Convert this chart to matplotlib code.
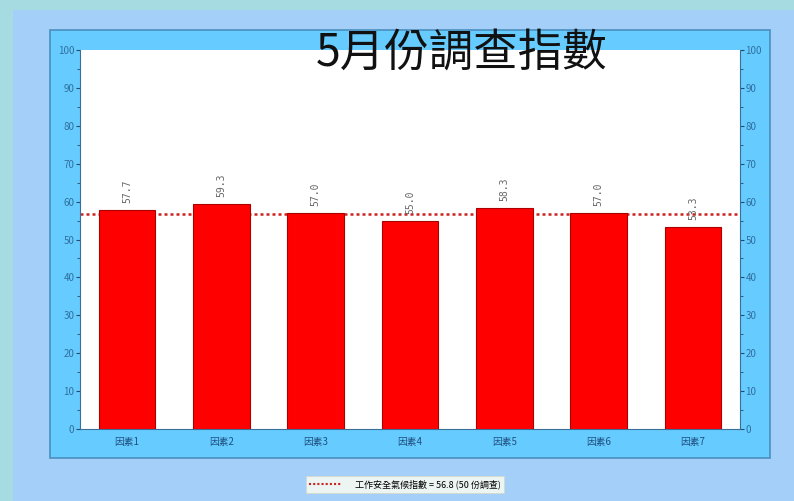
import matplotlib
matplotlib.use('Agg')
from matplotlib import pyplot as plt
from matplotlib.patches import Rectangle
from matplotlib.lines import Line2D

# data
categories = ['因素1', '因素2', '因素3', '因素4', '因素5', '因素6', '因素7']
values = [57.7, 59.3, 57.0, 55.0, 58.3, 57.0, 53.3]
average = 56.8
legend_label = '工作安全氣候指數 = 56.8 (50 份調查)'
title = '5月份調查指數'

plt.rcParams['font.family'] = ['Noto Sans CJK TC', 'DejaVu Sans']

fig = plt.figure(figsize=(7.94, 5.01), dpi=100)
fig.patch.set_facecolor('#a3cff8')

W, H = 794, 501


def px_rect(x0, y0, x1, y1, **kw):
    # rectangle in pixel coords, y from top
    r = Rectangle((x0 / W, 1 - y1 / H), (x1 - x0) / W, (y1 - y0) / H,
                  transform=fig.transFigure, **kw)
    fig.patches.append(r)


# background strips and panel
px_rect(0, 0, 13, 501, facecolor='#a6dbe2', edgecolor='none', zorder=-3)
px_rect(0, 0, 794, 10, facecolor='#a6dbe2', edgecolor='none', zorder=-3)
px_rect(50, 30, 770, 458, facecolor='#66ccff', edgecolor='#4a8fbf', linewidth=1.2, zorder=-2)

ax = fig.add_axes([80 / W, 1 - 429 / H, 660 / W, 379 / H])
ax.set_zorder(2)
ax.set_facecolor('white')

x = list(range(len(categories)))
ax.axhline(average, color='#cc2222', linestyle=(0, (1.2, 1.2)), linewidth=1.8, zorder=1)
bars = ax.bar(x, values, width=0.6, color='#ff0000', edgecolor='#aa0000', linewidth=0.8, zorder=2)

for xi, v in zip(x, values):
    ax.text(xi, v + 1.8, '%.1f' % v, rotation=90, ha='center', va='bottom',
            fontsize=7, color='#666666', family=['DejaVu Sans Mono'], zorder=3)

ax.set_xlim(-0.5, 6.5)
ax.set_ylim(0, 100)
ax.set_xticks(x)
ax.set_xticklabels(categories, fontsize=7, color='#1f4f80')
ax.set_yticks(range(0, 101, 10))
ax.set_yticks(range(0, 101, 5), minor=True)
ax.tick_params(axis='y', labelsize=7, labelcolor='#2f6f9f', color='#1f4f70',
               direction='out', length=3, left=True, right=True,
               labelleft=True, labelright=True, pad=1)
ax.tick_params(axis='y', which='minor', length=2, color='#1f4f70', left=True, right=True)
ax.tick_params(axis='x', length=0, pad=6)

for side in ['left', 'right', 'bottom']:
    ax.spines[side].set_color('#3a6f9a')
ax.spines['top'].set_visible(False)

fig.text(462 / W, 1 - 53 / H, title, fontsize=32, fontweight='medium',
         ha='center', va='center', color='#111111', zorder=5)

# legend at the bottom
handle = Line2D([], [], color='#cc2222', linestyle=(0, (1, 1)), linewidth=1.5)
leg = fig.legend([handle], [legend_label], loc='center', bbox_to_anchor=(405 / W, 1 - 484.5 / H),
                 fontsize=6.5, frameon=True, fancybox=False, handlelength=3.5,
                 borderpad=0.35, handletextpad=1.5)
leg.get_frame().set_facecolor('#fffff0')
leg.get_frame().set_edgecolor('#d8d8c0')
leg.get_frame().set_linewidth(0.6)

fig.savefig('out.png', dpi=100, facecolor=fig.get_facecolor())
